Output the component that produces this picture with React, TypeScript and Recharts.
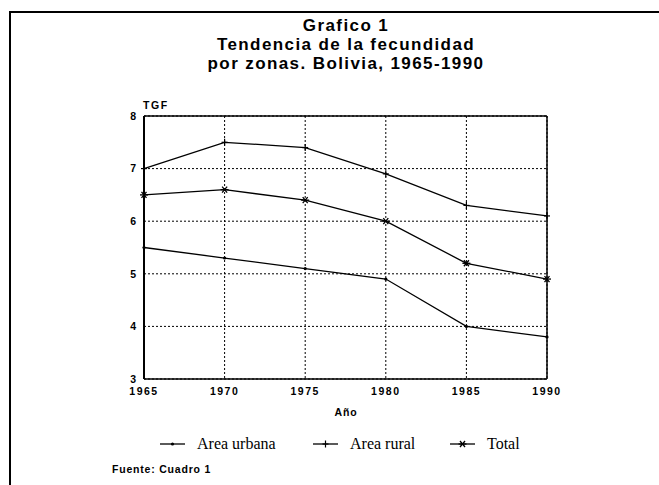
import React from "react";
import {
  LineChart,
  Line,
  XAxis,
  YAxis,
  CartesianGrid,
  ReferenceLine,
} from "recharts";

const YEARS = [1965, 1970, 1975, 1980, 1985, 1990];
const URBANA = [5.5, 5.3, 5.1, 4.9, 4.0, 3.8];
const RURAL = [7.0, 7.5, 7.4, 6.9, 6.3, 6.1];
const TOTAL = [6.5, 6.6, 6.4, 6.0, 5.2, 4.9];
const Y_TICKS = [3, 4, 5, 6, 7, 8];

const TITLE = ["Grafico 1", "Tendencia de la fecundidad", "por zonas. Bolivia, 1965-1990"];

const data = YEARS.map((year, i) => ({
  year,
  urbana: URBANA[i],
  rural: RURAL[i],
  total: TOTAL[i],
}));

const sans = "'Liberation Sans', Arial, sans-serif";
const serif = "'Liberation Serif', 'Times New Roman', serif";

const DotMark = (props: any) => {
  const { cx, cy } = props;
  if (cx == null || cy == null) return null;
  return <circle cx={cx} cy={cy} r={1.6} fill="#000" />;
};

const PlusMark = (props: any) => {
  const { cx, cy } = props;
  if (cx == null || cy == null) return null;
  return (
    <g stroke="#000" strokeWidth={1.2}>
      <line x1={cx} y1={cy - 3.5} x2={cx} y2={cy + 3.5} />
      <line x1={cx - 3} y1={cy} x2={cx + 3} y2={cy} />
    </g>
  );
};

const StarMark = (props: any) => {
  const { cx, cy } = props;
  if (cx == null || cy == null) return null;
  return (
    <g stroke="#000" strokeWidth={1.3}>
      <line x1={cx - 4} y1={cy} x2={cx + 4} y2={cy} />
      <line x1={cx - 2.5} y1={cy - 3} x2={cx + 2.5} y2={cy + 3} />
      <line x1={cx - 2.5} y1={cy + 3} x2={cx + 2.5} y2={cy - 3} />
    </g>
  );
};

const legendItems = [
  { name: "Area urbana", left: 160, Mark: DotMark },
  { name: "Area rural", left: 313, Mark: PlusMark },
  { name: "Total", left: 450, Mark: StarMark },
];

const tickStyle = { fill: "#000", fontSize: 10.5, fontWeight: 700, fontFamily: sans };

export default function App() {
  return (
    <div style={{ position: "absolute", left: 0, top: 0, width: 659, height: 485, background: "#fff" }}>
      {/* page frame */}
      <div
        style={{
          position: "absolute",
          left: 9,
          top: 11,
          width: 650,
          height: 474,
          borderLeft: "2px solid #000",
          borderTop: "2px solid #000",
        }}
      />

      {TITLE.map((t, i) => (
        <div
          key={t}
          style={{
            position: "absolute",
            left: 0,
            width: 692,
            top: 16 + i * 19,
            textAlign: "center",
            fontFamily: sans,
            fontWeight: 700,
            fontSize: 17,
            lineHeight: "19px",
            letterSpacing: 1.4,
          }}
        >
          {t}
        </div>
      ))}

      <div
        style={{
          position: "absolute",
          left: 143,
          top: 99,
          fontFamily: sans,
          fontWeight: 700,
          fontSize: 10.5,
          letterSpacing: 1.6,
        }}
      >
        TGF
      </div>

      <div style={{ position: "absolute", left: 0, top: 0 }}>
        <LineChart
          width={659}
          height={485}
          data={data}
          margin={{ top: 116, right: 112, bottom: 76, left: 104 }}
        >
          <CartesianGrid stroke="#000" strokeDasharray="2 2" strokeWidth={1} />
          <XAxis
            dataKey="year"
            type="number"
            domain={[1965, 1990]}
            ticks={YEARS}
            height={30}
            tickSize={0}
            tickMargin={9}
            tickLine={false}
            axisLine={{ stroke: "#000", strokeWidth: 1.5 }}
            tick={{ ...tickStyle, letterSpacing: 1.5 }}
            interval={0}
          />
          <YAxis
            type="number"
            domain={[3, 8]}
            ticks={Y_TICKS}
            width={40}
            tickSize={0}
            tickMargin={8}
            tickLine={false}
            axisLine={{ stroke: "#000", strokeWidth: 2 }}
            tick={tickStyle}
            interval={0}
          />
          <ReferenceLine y={8} stroke="#000" strokeWidth={1.5} />
          <ReferenceLine x={1990} stroke="#000" strokeWidth={1.5} />
          <Line
            dataKey="rural"
            stroke="#000"
            strokeWidth={1.3}
            dot={<PlusMark />}
            activeDot={false}
            isAnimationActive={false}
          />
          <Line
            dataKey="total"
            stroke="#000"
            strokeWidth={1.3}
            dot={<StarMark />}
            activeDot={false}
            isAnimationActive={false}
          />
          <Line
            dataKey="urbana"
            stroke="#000"
            strokeWidth={1.3}
            dot={<DotMark />}
            activeDot={false}
            isAnimationActive={false}
          />
        </LineChart>
      </div>

      <div
        style={{
          position: "absolute",
          left: 0,
          width: 692,
          top: 406,
          textAlign: "center",
          fontFamily: sans,
          fontWeight: 700,
          fontSize: 10.5,
          letterSpacing: 0.8,
        }}
      >
        Año
      </div>

      {legendItems.map(({ name, left, Mark }) => (
        <div
          key={name}
          style={{
            position: "absolute",
            left,
            top: 434,
            display: "flex",
            alignItems: "center",
            fontFamily: serif,
            fontSize: 16,
            lineHeight: "20px",
          }}
        >
          <svg width={26} height={20} style={{ marginRight: 11 }}>
            <line x1={0} y1={10} x2={25} y2={10} stroke="#000" strokeWidth={1.3} />
            <Mark cx={12.5} cy={10} />
          </svg>
          <span>{name}</span>
        </div>
      ))}

      <div
        style={{
          position: "absolute",
          left: 112,
          top: 463,
          fontFamily: sans,
          fontWeight: 700,
          fontSize: 10.5,
          letterSpacing: 0.8,
        }}
      >
        Fuente: Cuadro 1
      </div>
    </div>
  );
}
